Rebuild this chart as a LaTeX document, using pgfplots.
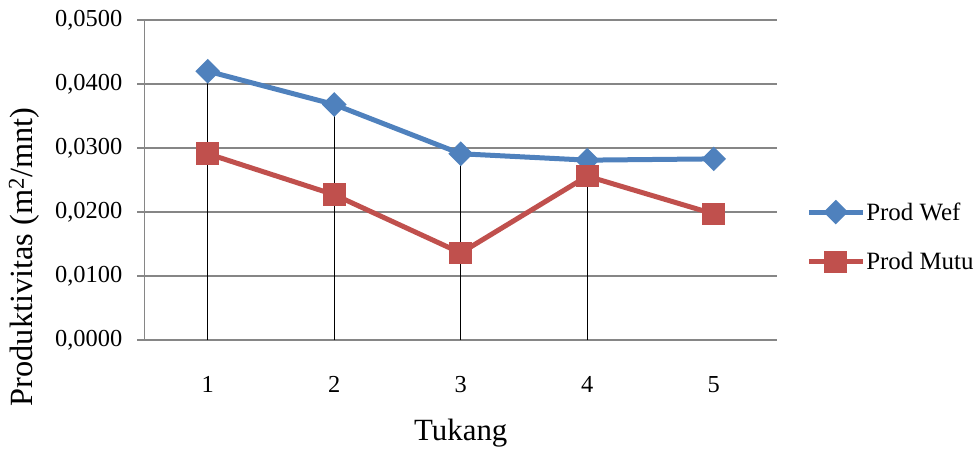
\documentclass[border=0pt]{standalone}
\usepackage{fontspec}
\setmainfont{Liberation Serif}
\usepackage{pgfplots}
\pgfplotsset{compat=1.18}

\definecolor{wefblue}{HTML}{4F81BD}
\definecolor{mutured}{HTML}{C0504D}
\definecolor{gridgray}{HTML}{868686}

\begin{document}
\begin{tikzpicture}
\begin{axis}[
    at={(144.5bp,110bp)}, anchor=south west,
    scale only axis,
    width=632.5bp, height=320bp,
    xmin=0.5, xmax=5.5,
    ymin=0, ymax=0.05,
    xtick={1,2,3,4,5},
    ytick={0,0.01,0.02,0.03,0.04,0.05},
    scaled y ticks=false,
    /pgf/number format/assume math mode=true,
    yticklabel style={/pgf/number format/fixed, /pgf/number format/fixed zerofill,
        /pgf/number format/precision=4, /pgf/number format/use comma,
        anchor=east, inner sep=0pt, xshift=-15bp},
    ymajorgrids,
    grid style={gridgray, line width=1.3bp},
    axis x line*=bottom, axis y line*=left,
    axis line style={gridgray, line width=1.3bp, -},
    xtick style={draw=none},
    ytick style={gridgray, line width=1.3bp},
    tick align=outside,
    major tick length=7bp,
    tick label style={font=\fontsize{24.5}{28}\selectfont, black},
    xticklabel style={anchor=base, inner sep=0pt, yshift=-45bp},
    xlabel={Tukang},
    ylabel={Produktivitas (m\textsuperscript{2}/mnt)},
    xlabel style={font=\fontsize{31}{34}\selectfont, at={(axis description cs:0.5,-0.29)}, anchor=center},
    ylabel style={font=\fontsize{32.5}{35}\selectfont, at={(axis description cs:-0.19,0.26)}, anchor=center},
    legend style={draw=none, fill=none, inner sep=0pt,
        at={(axis description cs:1.046,0.322)}, anchor=west,
        font=\fontsize{25}{28}\selectfont, row sep=27bp,
        nodes={inner xsep=1bp, inner ysep=2bp}},
    legend cell align=left,
    legend image code/.code={\draw[mark repeat=2, mark phase=2, #1] plot coordinates {(0bp,0bp) (27bp,0bp) (54bp,0bp)};},
    clip=false,
]
\addplot[wefblue, line width=5bp, mark=square*, mark size=6.2bp,
    mark options={rotate=45, fill=wefblue, draw=none}] coordinates {
    (1, 0.0420) (2, 0.0368) (3, 0.0291) (4, 0.0281) (5, 0.0283)
};
\addplot[mutured, line width=5bp, mark=square*, mark size=8.8bp,
    mark options={fill=mutured, draw=none}] coordinates {
    (1, 0.0291) (2, 0.0227) (3, 0.0136) (4, 0.0256) (5, 0.0197)
};
\addplot[ycomb, black, line width=1bp, forget plot] coordinates {
    (1, 0.0420) (2, 0.0368) (3, 0.0291) (4, 0.0281)
};
\legend{Prod Wef, Prod Mutu}
\end{axis}
\pgfresetboundingbox
\path[use as bounding box] (0,0) rectangle (975bp,450bp);
\end{tikzpicture}
\end{document}
